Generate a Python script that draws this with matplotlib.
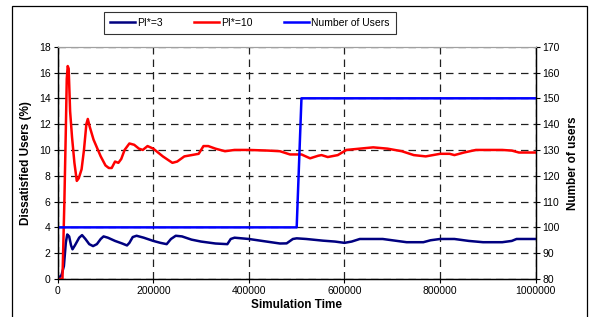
import numpy as np
import matplotlib
matplotlib.use('Agg')
import matplotlib.pyplot as plt
from matplotlib.patches import Rectangle

plt.rcParams['font.family'] = ['Liberation Sans', 'DejaVu Sans']

# data
t_pi10 = [0, 10000, 14000, 17000, 19000, 21000, 23000, 26000, 30000, 35000, 40000, 44000,
          50000, 55000, 60000, 63000, 67000, 75000, 90000, 100000, 107000, 113000, 120000,
          127000, 133000, 140000, 150000, 160000, 170000, 178000, 188000, 200000, 220000,
          240000, 250000, 265000, 280000, 295000, 305000, 315000, 330000, 350000, 370000,
          400000, 440000, 465000, 486000, 510000, 528000, 545000, 552000, 565000, 586000,
          604000, 632000, 660000, 690000, 720000, 745000, 770000, 800000, 820000, 830000,
          850000, 875000, 930000, 950000, 965000, 1000000]
pi10 = [0, 0, 6, 11.5, 15.5, 16.5, 16.3, 13, 11, 9, 7.6, 7.8,
        8.5, 10, 12, 12.4, 11.8, 10.8, 9.5, 8.8, 8.6, 8.6, 9.1,
        9.0, 9.3, 10.0, 10.5, 10.4, 10.1, 10.0, 10.3, 10.1, 9.5,
        9.0, 9.1, 9.5, 9.6, 9.7, 10.3, 10.3, 10.1, 9.9, 10.0,
        10.0, 9.95, 9.9, 9.65, 9.65, 9.35, 9.55, 9.6, 9.45, 9.6,
        10.0, 10.1, 10.2, 10.1, 9.9, 9.6, 9.5, 9.7, 9.7, 9.6,
        9.8, 10.0, 10.0, 9.95, 9.8, 9.8]

t_pi3 = [0, 8000, 13000, 17000, 20000, 24000, 28000, 31000, 36000, 45000, 51000, 58000,
         66000, 74000, 82000, 90000, 96000, 105000, 120000, 135000, 145000, 150000, 157000,
         165000, 180000, 200000, 215000, 228000, 237000, 247000, 260000, 280000, 300000,
         330000, 355000, 362000, 370000, 400000, 437000, 465000, 479000, 492000, 500000,
         520000, 555000, 580000, 600000, 615000, 632000, 680000, 700000, 730000, 765000,
         780000, 800000, 830000, 860000, 890000, 930000, 950000, 960000, 1000000]
pi3 = [0, 0.3, 1.0, 2.8, 3.45, 3.3, 2.6, 2.3, 2.6, 3.2, 3.4, 3.1,
       2.7, 2.55, 2.7, 3.1, 3.3, 3.2, 2.95, 2.75, 2.6, 2.8, 3.25,
       3.35, 3.2, 2.95, 2.8, 2.7, 3.1, 3.35, 3.3, 3.05, 2.9,
       2.75, 2.7, 3.1, 3.2, 3.1, 2.9, 2.75, 2.76, 3.1, 3.15,
       3.1, 2.97, 2.9, 2.8, 2.9, 3.1, 3.1, 3.0, 2.85, 2.85,
       3.0, 3.1, 3.1, 2.95, 2.85, 2.85, 2.95, 3.1, 3.1]

t_users = [0, 500000, 510000, 1000000]
users = [100, 100, 150, 150]

fig = plt.figure(figsize=(5.91, 3.17), dpi=100)
ax = fig.add_axes([0.0976, 0.1199, 0.8088, 0.7328])
ax2 = ax.twinx()

ax.plot(t_pi3, pi3, color='#000080', lw=1.8, label='PI*=3', zorder=3)
ax.plot(t_pi10, pi10, color='#FF0000', lw=1.8, label='PI*=10', zorder=3)
ax2.plot(t_users, users, color='#0000FF', lw=1.8, label='Number of Users')

ax.set_xlim(0, 1000000)
ax.set_ylim(0, 18)
ax2.set_ylim(80, 170)
ax.set_xticks(np.arange(0, 1000001, 200000))
ax.set_yticks(np.arange(0, 19, 2))
ax2.set_yticks(np.arange(80, 171, 10))
ax.set_xticklabels(['0', '200000', '400000', '600000', '800000', '1000000'])

ax.grid(True, color='#202020', ls=(0, (6, 4)), lw=0.9)
ax.set_axisbelow(True)
ax.tick_params(labelsize=7.5, length=3, width=0.8, direction='out', pad=2)
ax2.tick_params(labelsize=7.5, length=3, width=0.8, direction='out', pad=2)

for a in (ax, ax2):
    a.spines['top'].set_color('#A0A0A0')
    for s in ('left', 'right', 'bottom'):
        a.spines[s].set_linewidth(0.9)

ax.set_xlabel('Simulation Time', fontsize=8.5, fontweight='bold', labelpad=2)
ax.set_ylabel('Dissatisfied Users (%)', fontsize=8.5, fontweight='bold', labelpad=5)
ax2.set_ylabel('Number of users', fontsize=8.5, fontweight='bold', labelpad=5)

h1, l1 = ax.get_legend_handles_labels()
h2, l2 = ax2.get_legend_handles_labels()
leg = fig.legend(h1 + h2, l1 + l2, loc='center', ncol=3,
                 bbox_to_anchor=(0.423, 0.927), fontsize=7.5, frameon=True,
                 fancybox=False, edgecolor='black', handlelength=2.4,
                 handletextpad=0.2, columnspacing=3.0, borderpad=0.6)
leg.get_frame().set_linewidth(0.8)

# outer chart border
fig.patches.append(Rectangle((12 / 591, -0.01), 575 / 591, 1 - 6 / 317 + 0.01,
                             transform=fig.transFigure, fill=False,
                             edgecolor='black', lw=0.9))

fig.savefig('out.png', dpi=100)
